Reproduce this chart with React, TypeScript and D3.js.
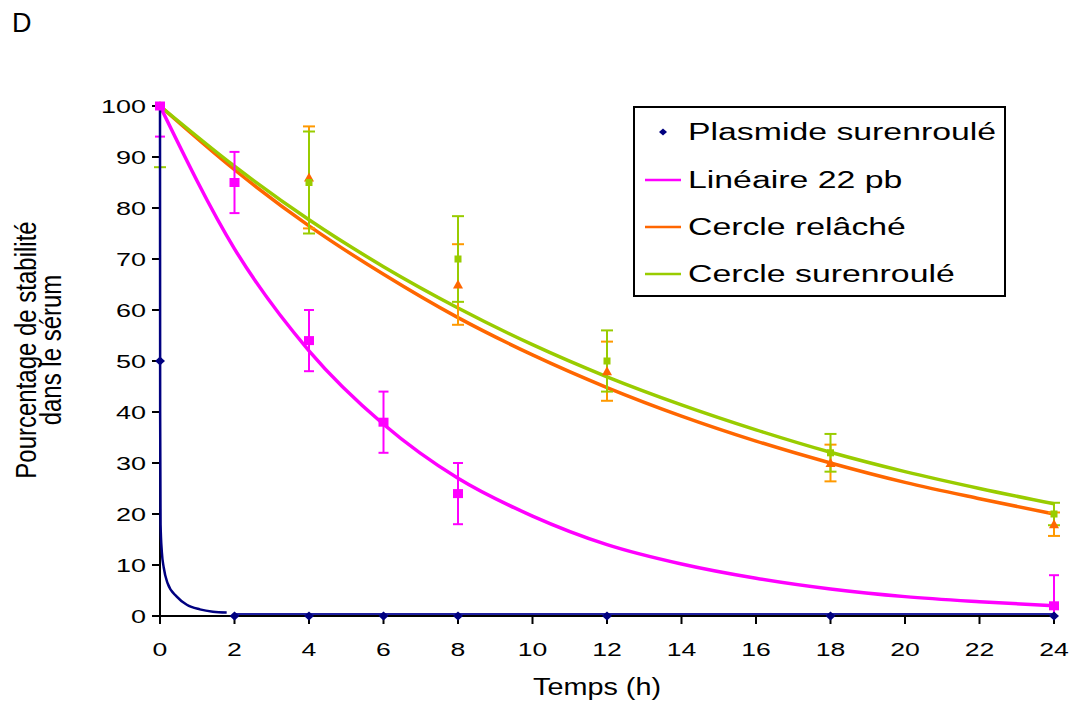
import React from 'react';
import * as d3 from 'd3';

// ---------- data ----------
const xTicks = [0, 2, 4, 6, 8, 10, 12, 14, 16, 18, 20, 22, 24];
const yTicks = [0, 10, 20, 30, 40, 50, 60, 70, 80, 90, 100];

const seriesNames = ['Plasmide surenroulé', 'Linéaire 22 pb', 'Cercle relâché', 'Cercle surenroulé'];

// Plasmide surenroulé (diamonds)
const plasmideT = [0, 2, 4, 6, 8, 12, 18, 24];
const plasmideV = [50, 0, 0, 0, 0, 0, 0, 0];
// its trend curve
const plasmideFitT = [0, 0.004, 0.015, 0.05, 0.1, 0.2, 0.45, 0.72, 1.07, 1.42, 1.79];
const plasmideFitV = [100, 40, 18, 12.5, 9.5, 6.5, 3.8, 2.2, 1.3, 0.85, 0.7];
const plasmideFlatT = [2, 24];
const plasmideFlatV = [0.35, 0.35];

// Linéaire 22 pb (squares)
const lineaireT = [0, 2, 4, 6, 8, 24];
const lineaireV = [100, 85, 54, 38, 24, 2];
const lineaireErr = [6, 6, 6, 6, 6, 6];

// Cercle relâché (triangles)
const relacheT = [0, 4, 8, 12, 18, 24];
const relacheV = [100, 86, 65, 48, 30, 18];
const relacheErr = [0, 10, 7.9, 5.8, 3.6, 2.3];

// Cercle surenroulé (small squares)
const surenrouleT = [0, 4, 8, 12, 18, 24];
const surenrouleV = [100, 85, 70, 50, 32, 20];
const surenrouleErr = [12, 10, 8.4, 6, 3.7, 2.2];

// trend curves
const fitT = [0, 2, 4, 6, 8, 10, 12, 14, 16, 18, 20, 22, 24];
const lineaireFit = [100, 72, 52, 37.6, 27, 19.6, 14, 10.2, 7.4, 5.3, 3.8, 2.8, 2];
const relacheFit = [100, 87.5, 76.5, 67, 58.5, 51.2, 44.8, 39.2, 34.3, 30, 26.2, 23, 20];
const surenrouleFit = [100, 88.2, 77.7, 68.5, 60.4, 53.2, 46.9, 41.4, 36.5, 32.1, 28.3, 25, 22];

// ---------- styling ----------
const W = 1071;
const H = 722;
const FONT = '"Liberation Sans", Arial, sans-serif';
const BLUE = '#000080';
const PINK = '#FF00FF';
const ORANGE = '#FF6600';
const ORANGE_ERR = '#FF9900';
const GREEN = '#99CC00';

const x = d3.scaleLinear().domain([0, 24]).range([160, 1054]);
const y = d3.scaleLinear().domain([0, 100]).range([616, 106]);

const zip = (t: number[], v: number[]) => t.map((tt, i) => [tt, v[i]] as [number, number]);

const smooth = d3
  .line<[number, number]>()
  .x((d) => x(d[0]))
  .y((d) => y(d[1]))
  .curve(d3.curveMonotoneX);

function SText(props: {
  x: number;
  y: number;
  size: number;
  sx: number;
  anchor?: string;
  children: React.ReactNode;
}) {
  return (
    <text
      transform={`translate(${props.x},${props.y}) scale(${props.sx},1)`}
      textAnchor={props.anchor || 'start'}
      fontSize={props.size}
      fontFamily={FONT}
      fill="#000"
    >
      {props.children}
    </text>
  );
}

function ErrorBars(props: { t: number[]; v: number[]; e: number[]; color: string; cap: number }) {
  return (
    <g stroke={props.color} strokeWidth={2}>
      {props.t.map((tt, i) => {
        if (!props.e[i]) return null;
        const hi = Math.min(100, props.v[i] + props.e[i]);
        const lo = Math.max(0, props.v[i] - props.e[i]);
        const cx = x(tt);
        return (
          <g key={i}>
            <line x1={cx} x2={cx} y1={y(hi)} y2={y(lo)} />
            {props.v[i] + props.e[i] <= 100 && (
              <line x1={cx - props.cap} x2={cx + props.cap} y1={y(hi)} y2={y(hi)} />
            )}
            {props.v[i] - props.e[i] >= 0 && (
              <line x1={cx - props.cap} x2={cx + props.cap} y1={y(lo)} y2={y(lo)} />
            )}
          </g>
        );
      })}
    </g>
  );
}

export default function App() {
  const diamond = (cx: number, cy: number, r: number) =>
    `M${cx},${cy - r}L${cx + r + 0.5},${cy}L${cx},${cy + r}L${cx - r - 0.5},${cy}Z`;
  const tri = (cx: number, cy: number) => `M${cx},${cy - 5}L${cx + 5},${cy + 4}L${cx - 5},${cy + 4}Z`;

  const legendY = [132, 180, 227, 274];
  const legendColors = [BLUE, PINK, ORANGE, GREEN];

  return (
    <svg
      width={W}
      height={H}
      style={{ position: 'absolute', left: 0, top: 0, background: '#fff' }}
    >
      <rect x={0} y={0} width={W} height={H} fill="#fff" />

      {/* panel letter */}
      <text x={12} y={32} fontSize={27} fontFamily={FONT}>
        D
      </text>

      {/* y axis title */}
      <g transform="translate(36,350) scale(1.2,1) rotate(-90)">
        <text textAnchor="middle" fontSize={24} fontFamily={FONT}>
          Pourcentage de stabilité
        </text>
      </g>
      <g transform="translate(61,350) scale(1.2,1) rotate(-90)">
        <text textAnchor="middle" fontSize={24} fontFamily={FONT}>
          dans le sérum
        </text>
      </g>

      {/* x axis title */}
      <SText x={597} y={695} size={24} sx={1.2} anchor="middle">
        Temps (h)
      </SText>

      {/* trend curves */}
      <path d={smooth(zip(plasmideFlatT, plasmideFlatV)) || ''} fill="none" stroke="#2020A0" strokeWidth={2.5} />
      <path d={smooth(zip(fitT, relacheFit)) || ''} fill="none" stroke={ORANGE} strokeWidth={3.5} />
      <path d={smooth(zip(fitT, surenrouleFit)) || ''} fill="none" stroke={GREEN} strokeWidth={3.5} />
      <path d={smooth(zip(fitT, lineaireFit)) || ''} fill="none" stroke={PINK} strokeWidth={3.5} />

      {/* error bars */}
      <ErrorBars t={relacheT} v={relacheV} e={relacheErr} color={ORANGE_ERR} cap={6} />
      <ErrorBars t={surenrouleT} v={surenrouleV} e={surenrouleErr} color={GREEN} cap={6} />
      <ErrorBars t={lineaireT} v={lineaireV} e={lineaireErr} color={PINK} cap={5} />

      {/* axes */}
      <g stroke="#000" strokeWidth={2}>
        <line x1={x(0)} x2={x(0)} y1={y(100) - 1} y2={y(0) + 8} />
        <line x1={x(0) - 8} x2={x(24) + 1} y1={y(0)} y2={y(0)} />
        {yTicks.map((v) => (
          <line key={'yt' + v} x1={x(0) - 8} x2={x(0)} y1={y(v)} y2={y(v)} />
        ))}
        {xTicks.map((v) => (
          <line key={'xt' + v} x1={x(v)} x2={x(v)} y1={y(0)} y2={y(0) + 8} />
        ))}
      </g>
      {yTicks.map((v) => (
        <SText key={'yl' + v} x={146} y={y(v) + 6.5} size={18} sx={1.5} anchor="end">
          {v}
        </SText>
      ))}
      {xTicks.map((v) => (
        <SText key={'xl' + v} x={x(v)} y={656} size={19} sx={1.4} anchor="middle">
          {v}
        </SText>
      ))}

      {/* plasmide trend curve drawn over the y axis, as in the reference */}
      <path d={smooth(zip(plasmideFitT, plasmideFitV)) || ''} fill="none" stroke={BLUE} strokeWidth={2.5} />

      {/* markers */}
      {zip(relacheT, relacheV).map((d, i) => (
        <path key={'r' + i} d={tri(x(d[0]), y(d[1]))} fill={ORANGE} />
      ))}
      {zip(surenrouleT, surenrouleV).map((d, i) => (
        <rect key={'s' + i} x={x(d[0]) - 3.5} y={y(d[1]) - 3.5} width={7} height={7} fill={GREEN} />
      ))}
      {zip(lineaireT, lineaireV).map((d, i) => (
        <rect key={'l' + i} x={x(d[0]) - 5} y={y(d[1]) - 4.5} width={10} height={9} fill={PINK} />
      ))}
      {zip(plasmideT, plasmideV).map((d, i) => (
        <path key={'p' + i} d={diamond(x(d[0]), y(d[1]), 4.5)} fill={BLUE} />
      ))}

      {/* legend */}
      <rect x={634} y={107} width={371} height={189} fill="#fff" stroke="#000" strokeWidth={2} />
      {seriesNames.map((name, i) => (
        <g key={name}>
          {i === 0 ? (
            <path d={diamond(663, legendY[i], 3.5)} fill={legendColors[i]} />
          ) : (
            <line x1={645} x2={681} y1={legendY[i]} y2={legendY[i]} stroke={legendColors[i]} strokeWidth={2.5} />
          )}
          <SText x={688} y={legendY[i] + 8} size={23} sx={1.47}>
            {name}
          </SText>
        </g>
      ))}
    </svg>
  );
}
